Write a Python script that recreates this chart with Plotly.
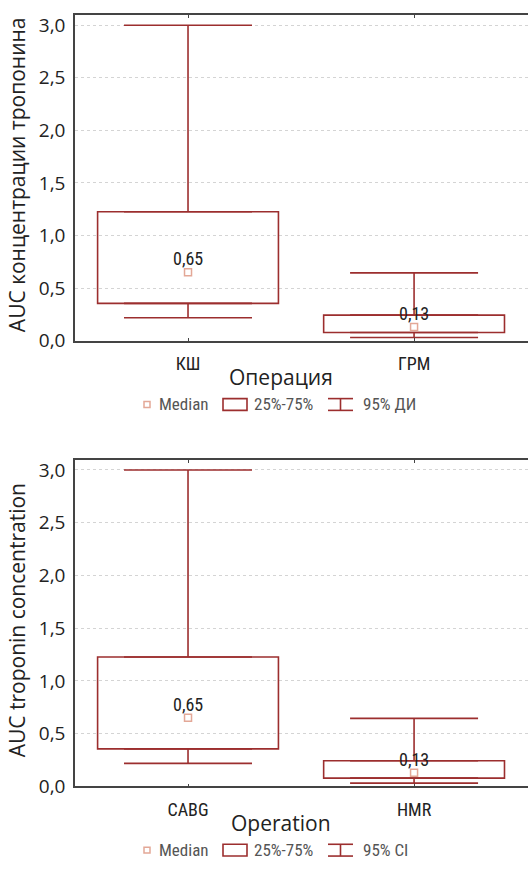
import plotly.graph_objects as go
from plotly.subplots import make_subplots

# ---- data ----
cats_ru = ["КШ", "ГРМ"]
cats_en = ["CABG", "HMR"]
median = [0.65, 0.13]
q1 = [0.355, 0.078]
q3 = [1.227, 0.243]
ci_low = [0.218, 0.031]
ci_high = [3.0, 0.645]
yticks = [0.0, 0.5, 1.0, 1.5, 2.0, 2.5, 3.0]
ytitle_ru = "AUC концентрации тропонина"
ytitle_en = "AUC troponin concentration"
xtitle_ru = "Операция"
xtitle_en = "Operation"
legend_ru = ["Median", "25%-75%", "95% ДИ"]
legend_en = ["Median", "25%-75%", "95% CI"]

W, H = 528, 872
RED = "#9c2e2e"
MED = "#e3a897"
AX = "#444444"
NARROW = "Roboto Condensed, DejaVu Sans Condensed, sans-serif"
SANS = "Open Sans, Noto Sans, DejaVu Sans, sans-serif"


def X(px):
    return px / W


def Y(py):
    return 1 - py / H


fig = make_subplots(rows=2, cols=1)

panels = [
    (1, cats_ru, 12.7, 344.0, ytitle_ru, xtitle_ru, legend_ru),
    (2, cats_en, 465.7, 798.0, ytitle_en, xtitle_en, legend_en),
]

shapes = []
annotations = []

for row, cats, top, bot, ytitle, xtitle, leg in panels:
    xref = "x" if row == 1 else "x2"
    yref = "y" if row == 1 else "y2"
    # box (25%-75%)
    fig.add_trace(go.Bar(
        x=cats, y=[b - a for a, b in zip(q1, q3)], base=q1, width=0.8,
        marker=dict(color="rgba(255,255,255,0)", line=dict(color=RED, width=1.6)),
        hoverinfo="skip", showlegend=False), row=row, col=1)
    # upper whisker
    fig.add_trace(go.Scatter(
        x=cats, y=q3, mode="markers", marker=dict(size=1, opacity=0),
        error_y=dict(type="data", symmetric=False,
                     array=[h - b for h, b in zip(ci_high, q3)], arrayminus=[0, 0],
                     width=64, thickness=1.6, color=RED),
        hoverinfo="skip", showlegend=False), row=row, col=1)
    # lower whisker
    fig.add_trace(go.Scatter(
        x=cats, y=q1, mode="markers", marker=dict(size=1, opacity=0),
        error_y=dict(type="data", symmetric=False,
                     array=[0, 0], arrayminus=[a - l for a, l in zip(q1, ci_low)],
                     width=64, thickness=1.6, color=RED),
        hoverinfo="skip", showlegend=False), row=row, col=1)
    # median
    fig.add_trace(go.Scatter(
        x=cats, y=median, mode="markers",
        marker=dict(symbol="square-open", size=7, color=MED, line=dict(width=1.5, color=MED)),
        hoverinfo="skip", showlegend=False), row=row, col=1)
    for c, m in zip(cats, median):
        annotations.append(dict(text=f"{m:.2f}".replace(".", ","), x=c, y=m, xref=xref, yref=yref,
                                showarrow=False, xanchor="center", yanchor="bottom", yshift=1,
                                font=dict(family=NARROW, size=18, color="#222")))

    # titles
    annotations.append(dict(text=ytitle, x=X(17), y=Y((top + bot) / 2 - 3), xref="paper", yref="paper",
                            textangle=-90, showarrow=False, xanchor="center", yanchor="middle",
                            font=dict(family=SANS, size=21, color="#222")))
    annotations.append(dict(text=xtitle, x=X(281), y=Y(bot + 37), xref="paper", yref="paper",
                            showarrow=False, xanchor="center", yanchor="middle",
                            font=dict(family=SANS, size=21, color="#222")))
    # legend
    ly = bot + 65
    shapes.append(dict(type="rect", xref="paper", yref="paper",
                       x0=X(144), x1=X(150), y0=Y(ly - 3), y1=Y(ly + 3),
                       line=dict(color=MED, width=1.5)))
    annotations.append(dict(text=leg[0], x=X(157), y=Y(ly), xref="paper", yref="paper",
                            showarrow=False, xanchor="left", yanchor="middle",
                            font=dict(family=NARROW, size=17, color="#555")))
    shapes.append(dict(type="rect", xref="paper", yref="paper",
                       x0=X(223), x1=X(247), y0=Y(ly - 6), y1=Y(ly + 6),
                       line=dict(color=RED, width=1.6)))
    annotations.append(dict(text=leg[1], x=X(252), y=Y(ly), xref="paper", yref="paper",
                            showarrow=False, xanchor="left", yanchor="middle",
                            font=dict(family=NARROW, size=17, color="#555")))
    for yy in (ly - 6, ly + 6):
        shapes.append(dict(type="line", xref="paper", yref="paper",
                           x0=X(328), x1=X(353), y0=Y(yy), y1=Y(yy),
                           line=dict(color=RED, width=1.6)))
    shapes.append(dict(type="line", xref="paper", yref="paper",
                       x0=X(340.5), x1=X(340.5), y0=Y(ly - 6), y1=Y(ly + 6),
                       line=dict(color=RED, width=1.6)))
    annotations.append(dict(text=leg[2], x=X(361), y=Y(ly), xref="paper", yref="paper",
                            showarrow=False, xanchor="left", yanchor="middle",
                            font=dict(family=NARROW, size=17, color="#555")))

    xa = "xaxis" if row == 1 else "xaxis2"
    ya = "yaxis" if row == 1 else "yaxis2"
    fig.layout[xa].update(
        domain=[X(75), 1.0], range=[-0.5, 1.504], type="category",
        showline=True, linecolor=AX, linewidth=1.5, mirror="ticks",
        ticks="inside", ticklen=3, tickcolor=AX, showgrid=False, zeroline=False,
        tickfont=dict(family=NARROW, size=18, color="#222"), ticklabelstandoff=6)
    fig.layout[ya].update(
        domain=[Y(bot), Y(top)], range=[0, 3.093],
        tickvals=yticks, tickformat=".1f",
        showline=True, linecolor=AX, linewidth=1.5, ticks="", zeroline=False,
        showgrid=True, gridcolor="#d4d4d4", griddash="dot", gridwidth=1,
        tickfont=dict(family=SANS, size=19, color="#222"), ticklabelstandoff=4)

fig.update_layout(
    width=W, height=H, margin=dict(l=0, r=0, t=0, b=0),
    paper_bgcolor="white", plot_bgcolor="white",
    separators=", ", barmode="overlay", showlegend=False,
    shapes=shapes, annotations=annotations)

fig.write_html("out.html")
